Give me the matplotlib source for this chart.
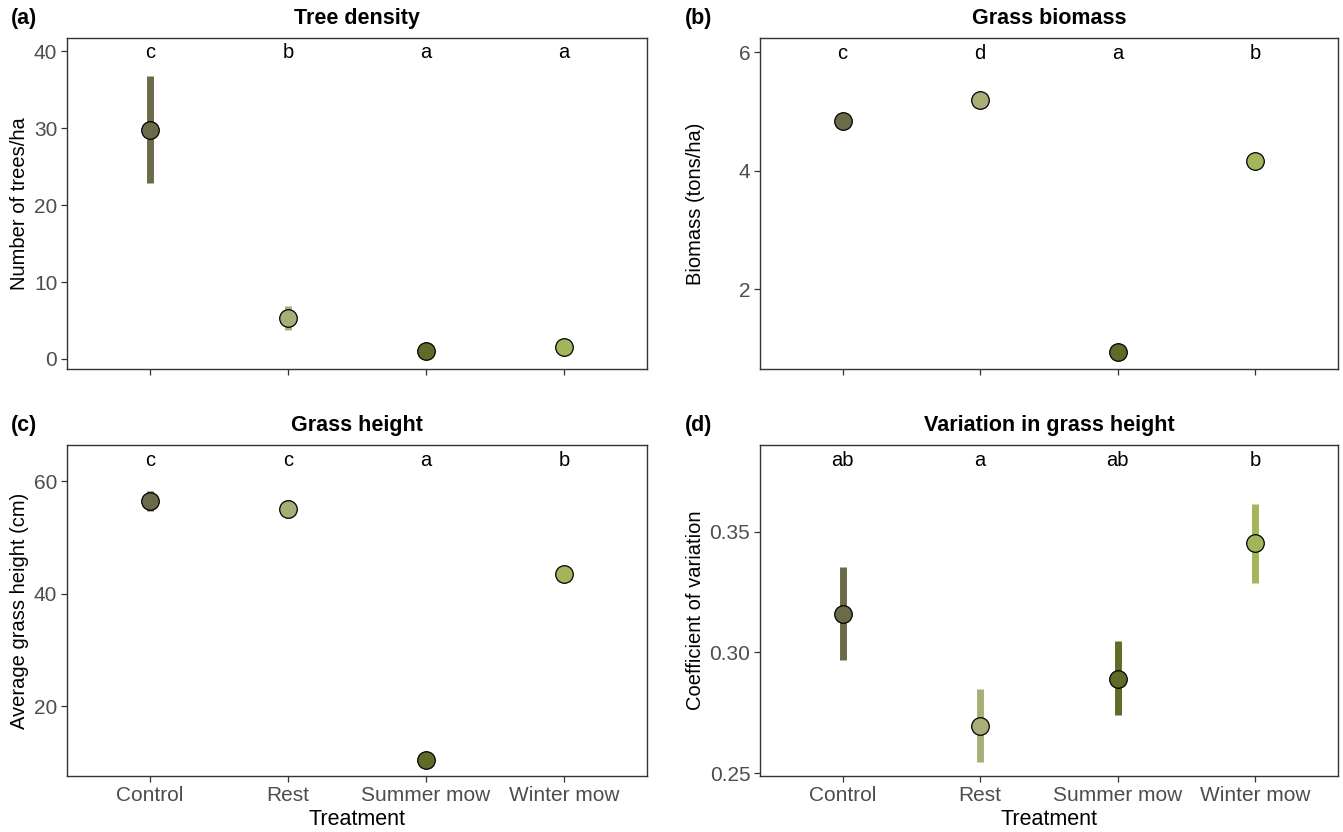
import matplotlib
matplotlib.use("Agg")
import matplotlib.pyplot as plt

plt.rcParams["font.family"] = ["Liberation Sans", "DejaVu Sans"]

# Treatments and colours
treatments = ["Control", "Rest", "Summer mow", "Winter mow"]
colors = ["#6b6b4a", "#a9ae79", "#5f6b28", "#a3b55a"]

# (a) Tree density
tree_mean = [29.7, 5.3, 1.1, 1.5]
tree_low = [22.8, 3.8, 1.1, 1.5]
tree_high = [36.8, 6.9, 1.1, 1.5]
tree_letters = ["c", "b", "a", "a"]

# (b) Grass biomass
bio_mean = [4.84, 5.2, 0.93, 4.17]
bio_low = [4.84, 5.2, 0.93, 4.17]
bio_high = [4.84, 5.2, 0.93, 4.17]
bio_letters = ["c", "d", "a", "b"]

# (c) Grass height
height_mean = [56.5, 55.0, 10.5, 43.4]
height_low = [54.6, 53.4, 10.5, 43.4]
height_high = [58.3, 56.7, 10.5, 43.4]
height_letters = ["c", "c", "a", "b"]

# (d) Coefficient of variation
cv_mean = [0.316, 0.2697, 0.289, 0.3454]
cv_low = [0.297, 0.2546, 0.274, 0.3287]
cv_high = [0.3356, 0.285, 0.3046, 0.3616]
cv_letters = ["ab", "a", "ab", "b"]

W, H = 1343, 832
left_pos = [67 / W, 580 / W]     # x0, width of left column
right_pos = [760 / W, 578 / W]   # x0, width of right column

panels = [
    dict(tag="(a)", title="Tree density", ylabel="Number of trees/ha",
         mean=tree_mean, low=tree_low, high=tree_high, letters=tree_letters,
         letter_y=39.8, ylim=(-1.3, 41.7), ticks=[0, 10, 20, 30, 40],
         ticklabels=["0", "10", "20", "30", "40"],
         pos=[left_pos[0], 0.5565, left_pos[1], 0.3978], xlabels=False,
         label_gap=38, tag_x=11 / W),
    dict(tag="(b)", title="Grass biomass", ylabel="Biomass (tons/ha)",
         mean=bio_mean, low=bio_low, high=bio_high, letters=bio_letters,
         letter_y=5.98, ylim=(0.65, 6.24), ticks=[2, 4, 6],
         ticklabels=["2", "4", "6"],
         pos=[right_pos[0], 0.5565, right_pos[1], 0.3978], xlabels=False,
         label_gap=55, tag_x=685 / W),
    dict(tag="(c)", title="Grass height", ylabel="Average grass height (cm)",
         mean=height_mean, low=height_low, high=height_high, letters=height_letters,
         letter_y=63.6, ylim=(7.6, 66.4), ticks=[20, 40, 60],
         ticklabels=["20", "40", "60"],
         pos=[left_pos[0], 0.0673, left_pos[1], 0.3978], xlabels=True,
         label_gap=38, tag_x=11 / W),
    dict(tag="(d)", title="Variation in grass height", ylabel="Coefficient of variation",
         mean=cv_mean, low=cv_low, high=cv_high, letters=cv_letters,
         letter_y=0.3795, ylim=(0.2488, 0.386), ticks=[0.25, 0.30, 0.35],
         ticklabels=["0.25", "0.30", "0.35"],
         pos=[right_pos[0], 0.0673, right_pos[1], 0.3978], xlabels=True,
         label_gap=55, tag_x=685 / W),
]

fig = plt.figure(figsize=(13.43, 8.32), dpi=100)

for p in panels:
    ax = fig.add_axes(p["pos"])
    x = list(range(1, len(treatments) + 1))
    for xi, m, lo, hi, c, lab in zip(x, p["mean"], p["low"], p["high"], colors, p["letters"]):
        if hi > lo:
            ax.vlines(xi, lo, hi, color=c, linewidth=5, zorder=2)
        ax.scatter(xi, m, s=160, color=c, edgecolor="black", linewidth=0.9, zorder=3)
        ax.text(xi, p["letter_y"], lab, ha="center", va="center", fontsize=14.5, color="black")

    ax.set_xlim(0.4, 4.6)
    ax.set_ylim(*p["ylim"])
    ax.set_xticks(x)
    ax.set_yticks(p["ticks"])
    ax.set_yticklabels(p["ticklabels"])
    if p["xlabels"]:
        ax.set_xticklabels(treatments)
        ax.set_xlabel("Treatment", fontsize=15.5, labelpad=3)
    else:
        ax.set_xticklabels([])
    ax.set_ylabel(p["ylabel"], fontsize=14.5)
    # y labels sit at a fixed pixel distance from the axes edge
    ax.yaxis.set_label_coords(-p["label_gap"] / (p["pos"][2] * W), 0.5)
    ax.set_title(p["title"], fontsize=15.5, fontweight="bold", pad=10)
    ax.tick_params(axis="both", labelsize=15, labelcolor="#4d4d4d",
                   color="#333333", length=4, width=0.9, pad=3)
    for s in ax.spines.values():
        s.set_color("#333333")
        s.set_linewidth(1.0)

    # panel tag at top-left of each panel
    bbox = ax.get_position()
    fig.text(p["tag_x"], bbox.y1 + 0.011, p["tag"], fontsize=15.5,
             fontweight="bold", ha="left", va="bottom")

fig.savefig("out.png", dpi=100)
